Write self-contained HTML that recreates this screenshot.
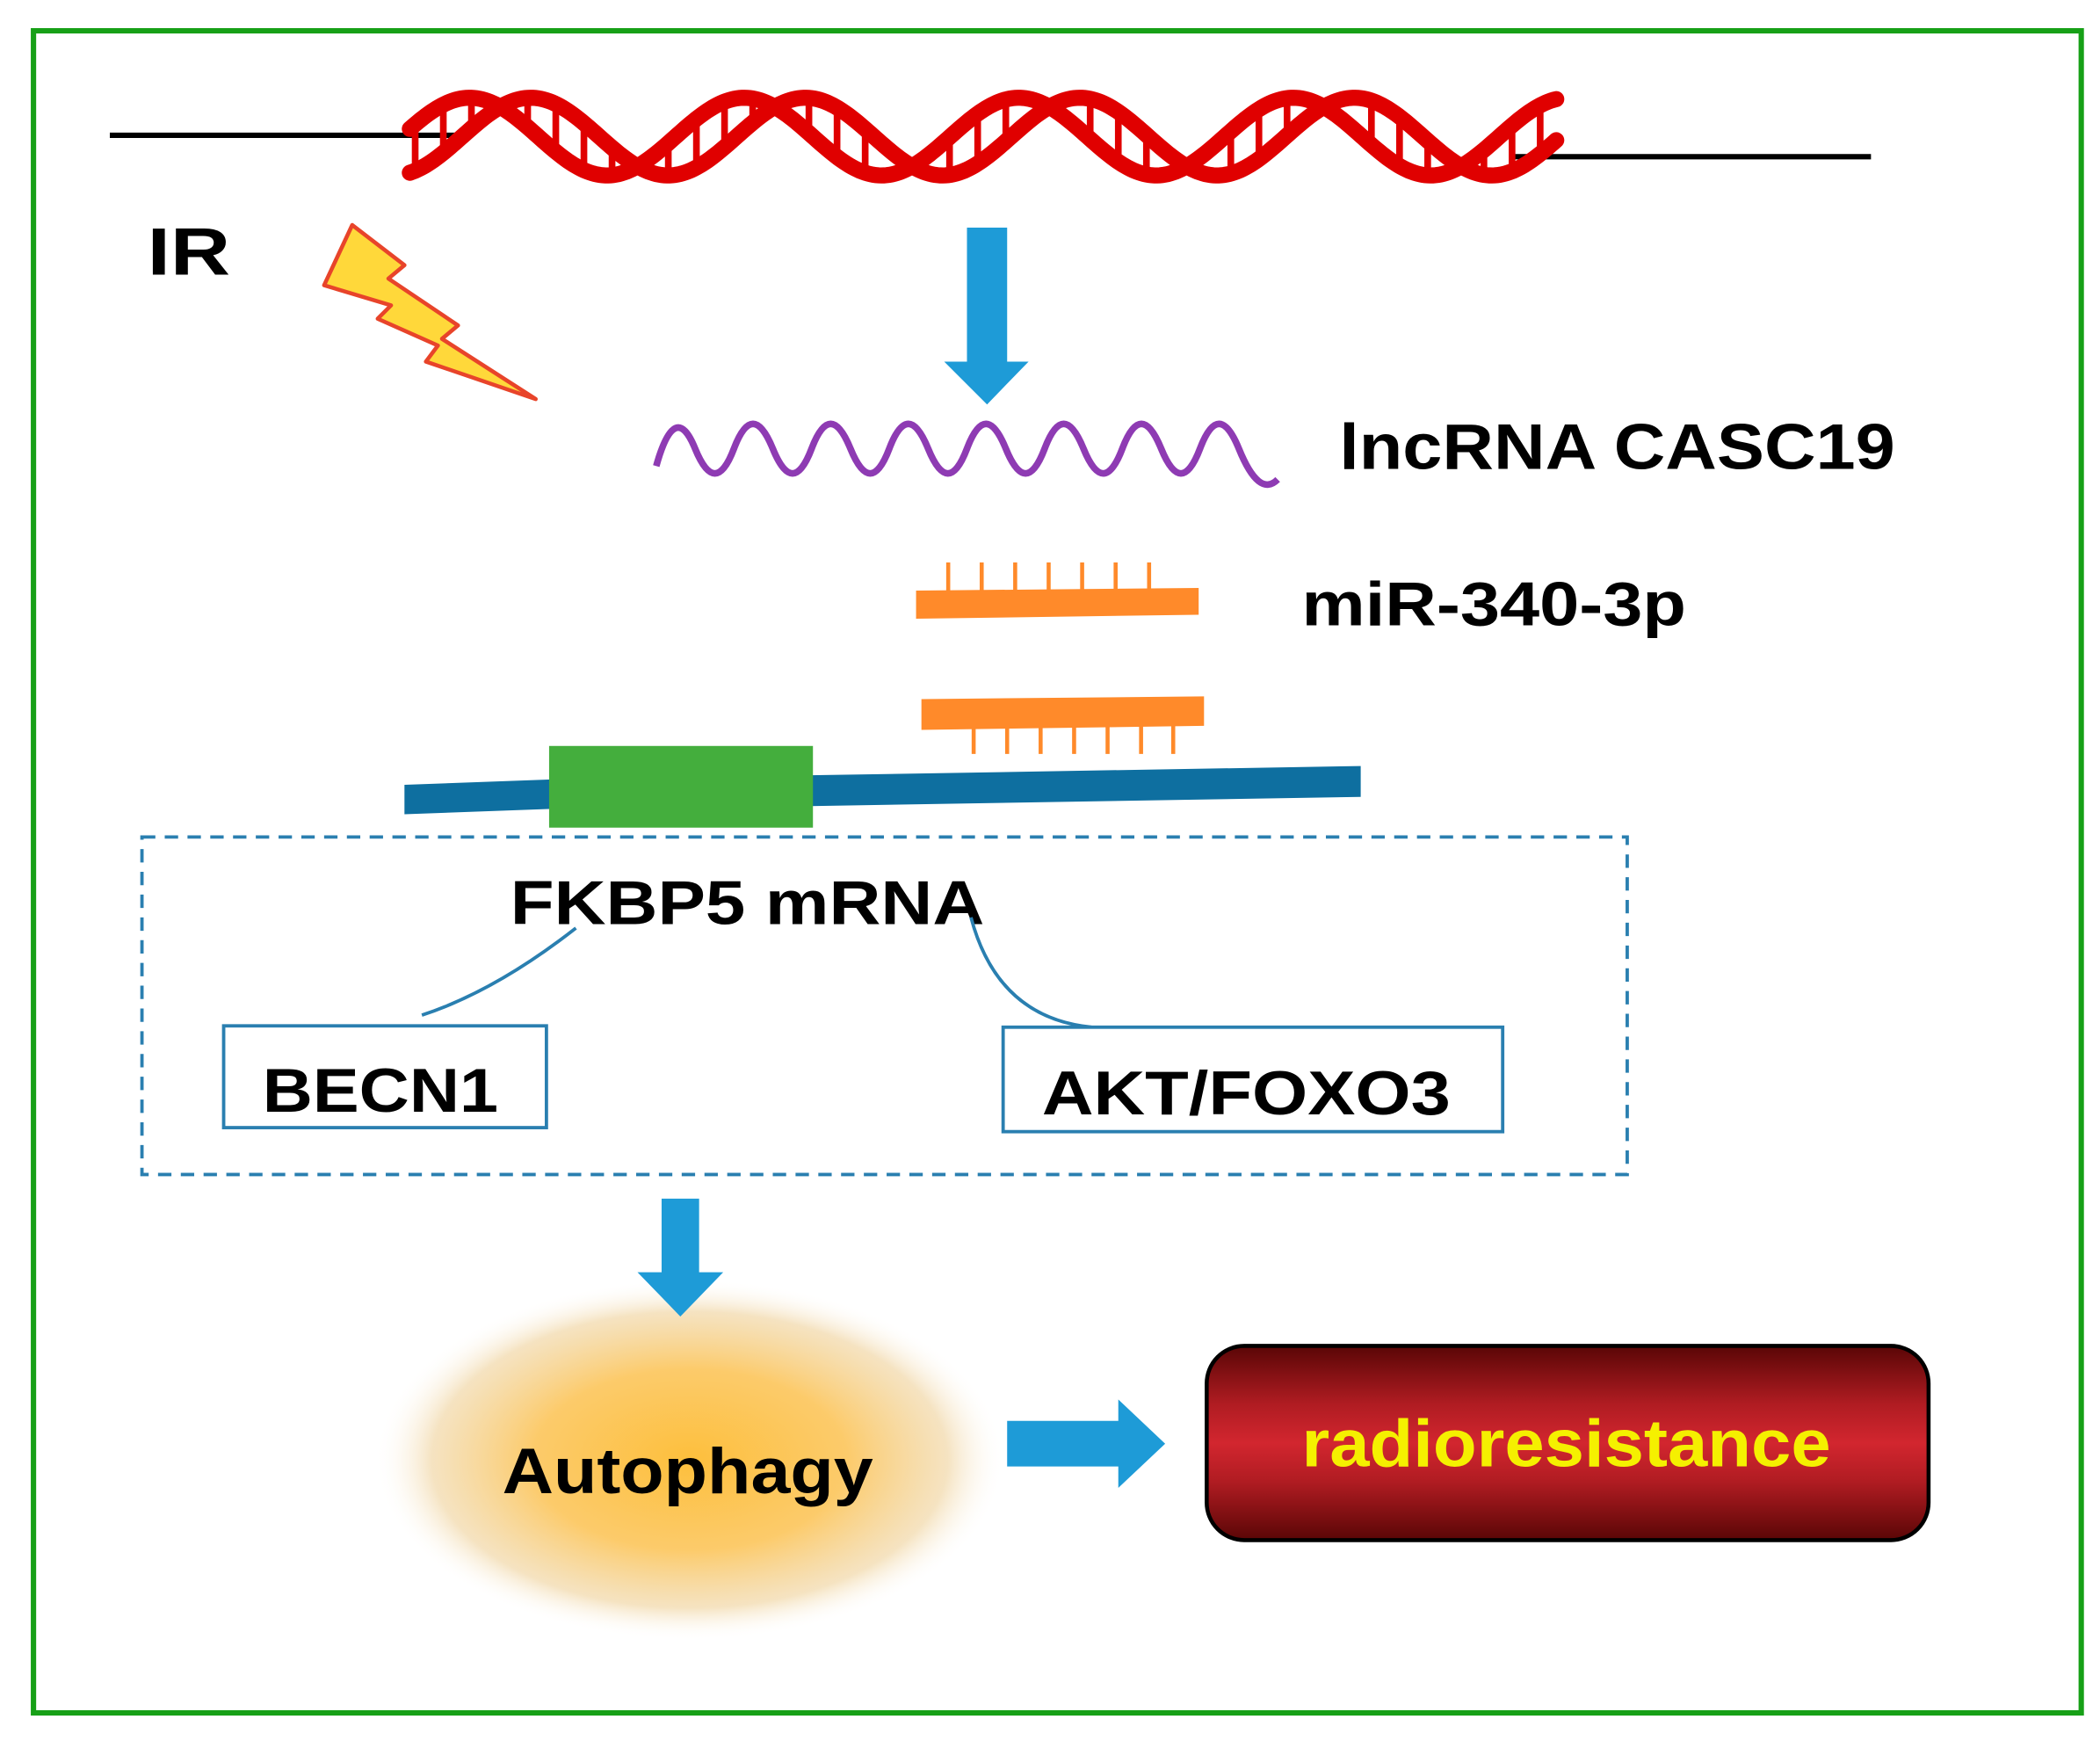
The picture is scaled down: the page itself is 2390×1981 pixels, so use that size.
<!DOCTYPE html>
<html><head><meta charset="utf-8"><style>
html,body{margin:0;padding:0;background:#fff;}
svg{display:block;}
text{font-family:"Liberation Sans",Arial,sans-serif;font-weight:bold;}
</style></head><body>
<svg id="s" width="2390" height="1981" viewBox="0 0 1568 1300" preserveAspectRatio="none" xmlns="http://www.w3.org/2000/svg">
<defs>
<radialGradient id="glow" cx="50%" cy="50%" r="50%">
<stop offset="0" stop-color="#fdbf3c"/>
<stop offset="0.5" stop-color="#fcc55a" stop-opacity="0.9"/>
<stop offset="0.82" stop-color="#f0d4a0" stop-opacity="0.65"/>
<stop offset="1" stop-color="#fff" stop-opacity="0"/>
</radialGradient>
<linearGradient id="rr" x1="0" y1="0" x2="0" y2="1">
<stop offset="0" stop-color="#5a0606"/>
<stop offset="0.3" stop-color="#b01c22"/>
<stop offset="0.5" stop-color="#d2262f"/>
<stop offset="0.7" stop-color="#b01c22"/>
<stop offset="1" stop-color="#5a0606"/>
</linearGradient>
</defs>
<rect x="25" y="23" width="1529" height="1256" fill="none" stroke="#17a017" stroke-width="4"/>
<line x1="82" y1="101" x2="352" y2="101" stroke="#000" stroke-width="4"/>
<line x1="1128" y1="117" x2="1397" y2="117" stroke="#000" stroke-width="4"/>
<g id="dna"></g>
<text x="110" y="205" font-size="50" textLength="62" lengthAdjust="spacingAndGlyphs">IR</text>
<polygon points="242,213 263,168 302,198 290,208 342,243 330,253 400,298 318,270 327,258 282,238 292,228" fill="#ffd83a" stroke="#e8442a" stroke-width="3" stroke-linejoin="round"/>
<polygon points="722,170 752,170 752,270 768,270 737,302 705,270 722,270" fill="#1e9bd7"/>
<path d="M490,348 Q504,298 519,335 T548,335 T577,335 T606,335 T635,335 T664,335 T693,335 T722,335 T751,335 T780,335 T809,335 T838,335 T867,335 T896,335 T925,335 T954,358" fill="none" stroke="#8e3bb3" stroke-width="5"/>
<text x="1000" y="350" font-size="48" textLength="415" lengthAdjust="spacingAndGlyphs">lncRNA CASC19</text>
<polygon points="684,441 895,439 895,459 684,462" fill="#ff8a2a"/>
<g stroke="#ff8a2a" stroke-width="3"><path d="M708,420V442M733,420V442M758,420V442M783,420V442M808,420V442M833,420V442M858,420V442"/></g>
<text x="972" y="467" font-size="46" textLength="287" lengthAdjust="spacingAndGlyphs">miR-340-3p</text>
<polygon points="688,522 899,520 899,542 688,545" fill="#ff8a2a"/>
<g stroke="#ff8a2a" stroke-width="3"><path d="M727,542V563M752,542V563M777,542V563M802,542V563M827,542V563M852,542V563M876,542V563"/></g>
<polygon points="302,586 412,582 412,604 302,608" fill="#0e6fa0"/>
<polygon points="600,579 1016,572 1016,595 600,602" fill="#0e6fa0"/>
<rect x="410" y="557" width="197" height="61" fill="#44ae3d"/>
<rect x="106" y="625" width="1109" height="252" fill="none" stroke="#2a7fb0" stroke-width="2.5" stroke-dasharray="10,7"/>
<text x="381" y="690" font-size="46" textLength="354" lengthAdjust="spacingAndGlyphs">FKBP5 mRNA</text>
<path d="M430,693 Q370,740 315,758" fill="none" stroke="#2a7fb0" stroke-width="2.5"/>
<path d="M725,685 Q745,760 815,767" fill="none" stroke="#2a7fb0" stroke-width="2.5"/>
<rect x="167" y="766" width="241" height="76" fill="#fff" stroke="#2a7fb0" stroke-width="2.5"/>
<text x="196" y="830" font-size="46" textLength="176" lengthAdjust="spacingAndGlyphs">BECN1</text>
<rect x="749" y="767" width="373" height="78" fill="#fff" stroke="#2a7fb0" stroke-width="2.5"/>
<text x="778" y="832" font-size="46" textLength="305" lengthAdjust="spacingAndGlyphs">AKT/FOXO3</text>
<ellipse cx="515" cy="1090" rx="235" ry="135" fill="url(#glow)"/>
<polygon points="494,895 522,895 522,950 540,950 508,983 476,950 494,950" fill="#1e9bd7"/>
<text x="375" y="1115" font-size="48" textLength="277" lengthAdjust="spacingAndGlyphs">Autophagy</text>
<polygon points="752,1061 835,1061 835,1045 870,1078 835,1111 835,1095 752,1095" fill="#1e9bd7"/>
<rect x="901" y="1005" width="539" height="145" rx="28" fill="url(#rr)" stroke="#000" stroke-width="3"/>
<text x="972" y="1095" font-size="50" fill="#f5f000" textLength="395" lengthAdjust="spacingAndGlyphs">radioresistance</text>
</svg>
<script>
(function(){
var g=document.getElementById('dna'),NS='http://www.w3.org/2000/svg';
var P=205,phi=80*Math.PI/180,amp=29,cy=102,x0=306,x1=1163;
var th0=230*Math.PI/180;
function th(x){return th0+2*Math.PI*(x-476)/P;}
function y1(x){return cy-amp*Math.sin(th(x));}
function y2(x){return cy-amp*Math.sin(th(x)+phi);}
var h='';
for(var x=x0+4;x<x1-4;x+=21){
 var a=y1(x),b=y2(x);
 if(Math.abs(a-b)>18){var lo=Math.min(a,b)+5,hi=Math.max(a,b)-5;h+='M'+x.toFixed(1)+','+lo.toFixed(1)+'V'+hi.toFixed(1);}
}
var r=document.createElementNS(NS,'path');r.setAttribute('d',h);r.setAttribute('stroke','#e00000');r.setAttribute('stroke-width','5');r.setAttribute('fill','none');g.appendChild(r);
[y1,y2].forEach(function(f){
 var d='';for(var x=x0;x<=x1;x+=2){d+=(d?'L':'M')+x+','+f(x).toFixed(2);}
 var p=document.createElementNS(NS,'path');p.setAttribute('d',d);p.setAttribute('stroke','#e00000');p.setAttribute('stroke-width','12');p.setAttribute('fill','none');p.setAttribute('stroke-linecap','round');g.appendChild(p);
});
})();
</script>
</body></html>
